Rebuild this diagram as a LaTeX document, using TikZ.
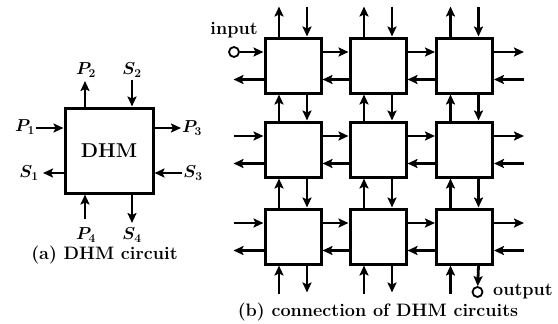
\documentclass[tikz,border=0pt]{standalone}
\usetikzlibrary{arrows.meta}
\begin{document}
\begin{tikzpicture}[x=1pt,y=-1pt,
  box/.style={draw,line width=3pt,minimum width=56pt,minimum height=55pt,inner sep=0pt,fill=white},
  bigbox/.style={draw,line width=3pt,minimum width=88pt,minimum height=85pt,inner sep=0pt,
    font=\fontsize{20}{22}\selectfont\bfseries},
  arr/.style={line width=2.8pt,-{Stealth[length=10pt,width=9pt,inset=2pt]}},
  lab/.style={font=\fontsize{18}{20}\selectfont\boldmath,inner sep=0pt},
  captxt/.style={font=\fontsize{18}{20}\selectfont\bfseries,inner sep=0pt},
  port/.style={draw,circle,line width=1.8pt,minimum size=10pt,inner sep=0pt,fill=white}]
\useasboundingbox (0,0) rectangle (558,324);
% ---- (a) single DHM circuit
\node[bigbox] (dhm) at (109,150.5) {DHM};
\coordinate (p2e) at (85,81);
\coordinate (s2s) at (132,80);
\coordinate (p1s) at (36,128);
\coordinate (s1e) at (43,173);
\coordinate (p3e) at (181,128);
\coordinate (s3s) at (182,173);
\coordinate (p4s) at (85,219);
\coordinate (s4e) at (132,223);
\draw[arr] (dhm.north -| p2e) -- (p2e);
\draw[arr] (s2s) -- (dhm.north -| s2s);
\draw[arr] (p1s) -- (dhm.west |- p1s);
\draw[arr] (dhm.west |- s1e) -- (s1e);
\draw[arr] (dhm.east |- p3e) -- (p3e);
\draw[arr] (s3s) -- (dhm.east |- s3s);
\draw[arr] (p4s) -- (dhm.south -| p4s);
\draw[arr] (dhm.south -| s4e) -- (s4e);
\node[lab] (lp2) at (86,70) {$P_2$};
\node[lab] (ls2) at (132,70) {$S_2$};
\node[lab] (lp1) at (25,127) {$P_1$};
\node[lab] (ls1) at (29,173) {$S_1$};
\node[lab] (lp3) at (192,128) {$P_3$};
\node[lab] (ls3) at (193,173) {$S_3$};
\node[lab] (lp4) at (86,235) {$P_4$};
\node[lab] (ls4) at (132,235) {$S_4$};
\node[captxt] (capa) at (104.5,255) {(a) DHM circuit};
% ---- (b) grid of DHM circuits
\foreach \r/\y in {1/65.5,2/149.5,3/236.5}{
  \foreach \c/\x in {1/293,2/378,3/464.5}{
    \node[box] (b\r\c) at (\x,\y) {};
  }
}
% horizontal connections between boxes
\foreach \r in {1,2,3}{
  \foreach \c/\d in {1/2,2/3}{
    \draw[arr] ([yshift=13.5pt]b\r\c.east) -- ([yshift=13.5pt]b\r\d.west);
    \draw[arr] ([yshift=-14pt]b\r\d.west) -- ([yshift=-14pt]b\r\c.east);
  }
  % right boundary
  \coordinate (re\r a) at ([xshift=30pt,yshift=13.5pt]b\r3.east);
  \coordinate (re\r b) at ([xshift=30pt,yshift=-14pt]b\r3.east);
  \draw[arr] ([yshift=13.5pt]b\r3.east) -- (re\r a);
  \draw[arr] (re\r b) -- ([yshift=-14pt]b\r3.east);
  % left boundary, outgoing
  \coordinate (le\r b) at ([xshift=-30pt,yshift=-14pt]b\r1.west);
  \draw[arr] ([yshift=-14pt]b\r1.west) -- (le\r b);
}
\foreach \r in {2,3}{
  \coordinate (le\r a) at ([xshift=-30pt,yshift=13.5pt]b\r1.west);
  \draw[arr] (le\r a) -- ([yshift=13.5pt]b\r1.west);
}
% vertical connections between boxes
\foreach \c in {1,2,3}{
  \foreach \r/\s in {1/2,2/3}{
    \draw[arr] ([xshift=-14pt]b\s\c.north) -- ([xshift=-14pt]b\r\c.south);
    \draw[arr] ([xshift=14pt]b\r\c.south) -- ([xshift=14pt]b\s\c.north);
  }
  % top boundary
  \coordinate (te\c a) at ([xshift=-14pt,yshift=30pt]b1\c.north);
  \coordinate (te\c b) at ([xshift=14pt,yshift=30pt]b1\c.north);
  \draw[arr] ([xshift=-14pt]b1\c.north) -- (te\c a);
  \draw[arr] (te\c b) -- ([xshift=14pt]b1\c.north);
  % bottom boundary, incoming
  \coordinate (be\c a) at ([xshift=-14pt,yshift=-28pt]b3\c.south);
  \draw[arr] (be\c a) -- ([xshift=-14pt]b3\c.south);
}
\foreach \c in {1,2}{
  \coordinate (be\c b) at ([xshift=14pt,yshift=-27pt]b3\c.south);
  \draw[arr] ([xshift=14pt]b3\c.south) -- (be\c b);
}
% input and output
\node[port] (in) at (234,52) {};
\draw[arr] (in) -- ([yshift=13.5pt]b11.west);
\node[port] (out) at (477.5,292) {};
\draw[arr] ([xshift=14pt]b33.south) -- (out);
\node[captxt] (lin) at (234,30) {input};
\node[captxt,anchor=west] (lout) at (493,292) {output};
\node[captxt] (capb) at (378,312) {(b) connection of DHM circuits};
\end{tikzpicture}
\end{document}
